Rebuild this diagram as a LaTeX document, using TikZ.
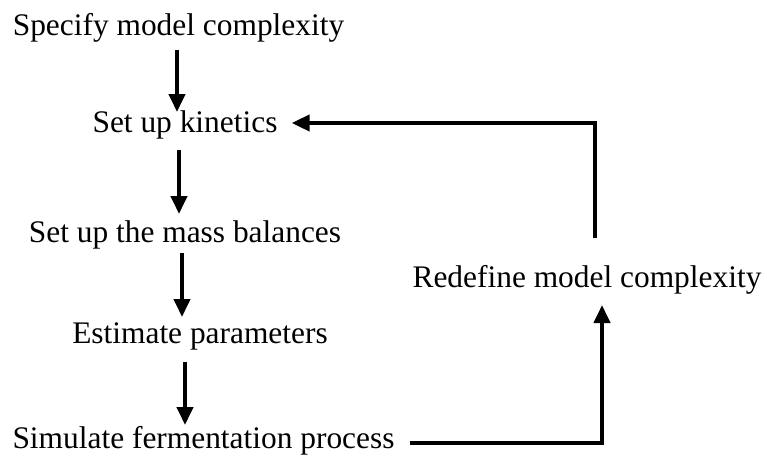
\documentclass[tikz,border=0pt]{standalone}
\usepackage{fontspec}
\setmainfont{Liberation Serif}
\usetikzlibrary{arrows.meta,positioning,calc}

\begin{document}
\begin{tikzpicture}[x=1pt,y=-1pt,
  font=\fontsize{31.4}{36}\selectfont,
  stepnode/.style={inner sep=0pt,anchor=base},
  flowarr/.style={line width=4pt,-{Triangle[length=18pt,width=16pt]}},
  flowline/.style={line width=4pt}]
\useasboundingbox (0,0) rectangle (767,459);
% --- main chain ---
\node[stepnode] (spec) at (178.5,35) {Specify model complexity};
\node[stepnode] (kin) at (185,132) {Set up kinetics};
\node[stepnode] (mass) at (185,242) {Set up the mass balances};
\node[stepnode] (est) at (200,343) {Estimate parameters};
\node[stepnode] (sim) at (203.5,448) {Simulate fermentation process};
\node[stepnode] (redef) at (587,287) {Redefine model complexity};
% --- downward arrows ---
\draw[flowarr] ([xshift=-1.5pt,yshift=-15pt]spec.base) -- ([xshift=-8pt,yshift=20pt]kin.base);
\draw[flowarr] ([xshift=-6pt,yshift=-18pt]kin.base) -- ([xshift=-6pt,yshift=28pt]mass.base);
\draw[flowarr] ([xshift=-3pt,yshift=-11pt]mass.base) -- ([xshift=-18pt,yshift=26pt]est.base);
\draw[flowarr] ([xshift=-15pt,yshift=-19pt]est.base) -- ([xshift=-18.5pt,yshift=23pt]sim.base);
% --- feedback loop ---
\coordinate (lowcorner) at (602,443);
\coordinate (topcorner) at (595,123);
\draw[flowarr] ([xshift=15pt]sim.east |- lowcorner) -- (lowcorner) -- ([yshift=-18pt]redef.base -| lowcorner);
\draw[flowarr] ([yshift=49pt]redef.base -| topcorner) -- (topcorner) -- ([xshift=14pt]kin.east |- topcorner);
\end{tikzpicture}
\end{document}
